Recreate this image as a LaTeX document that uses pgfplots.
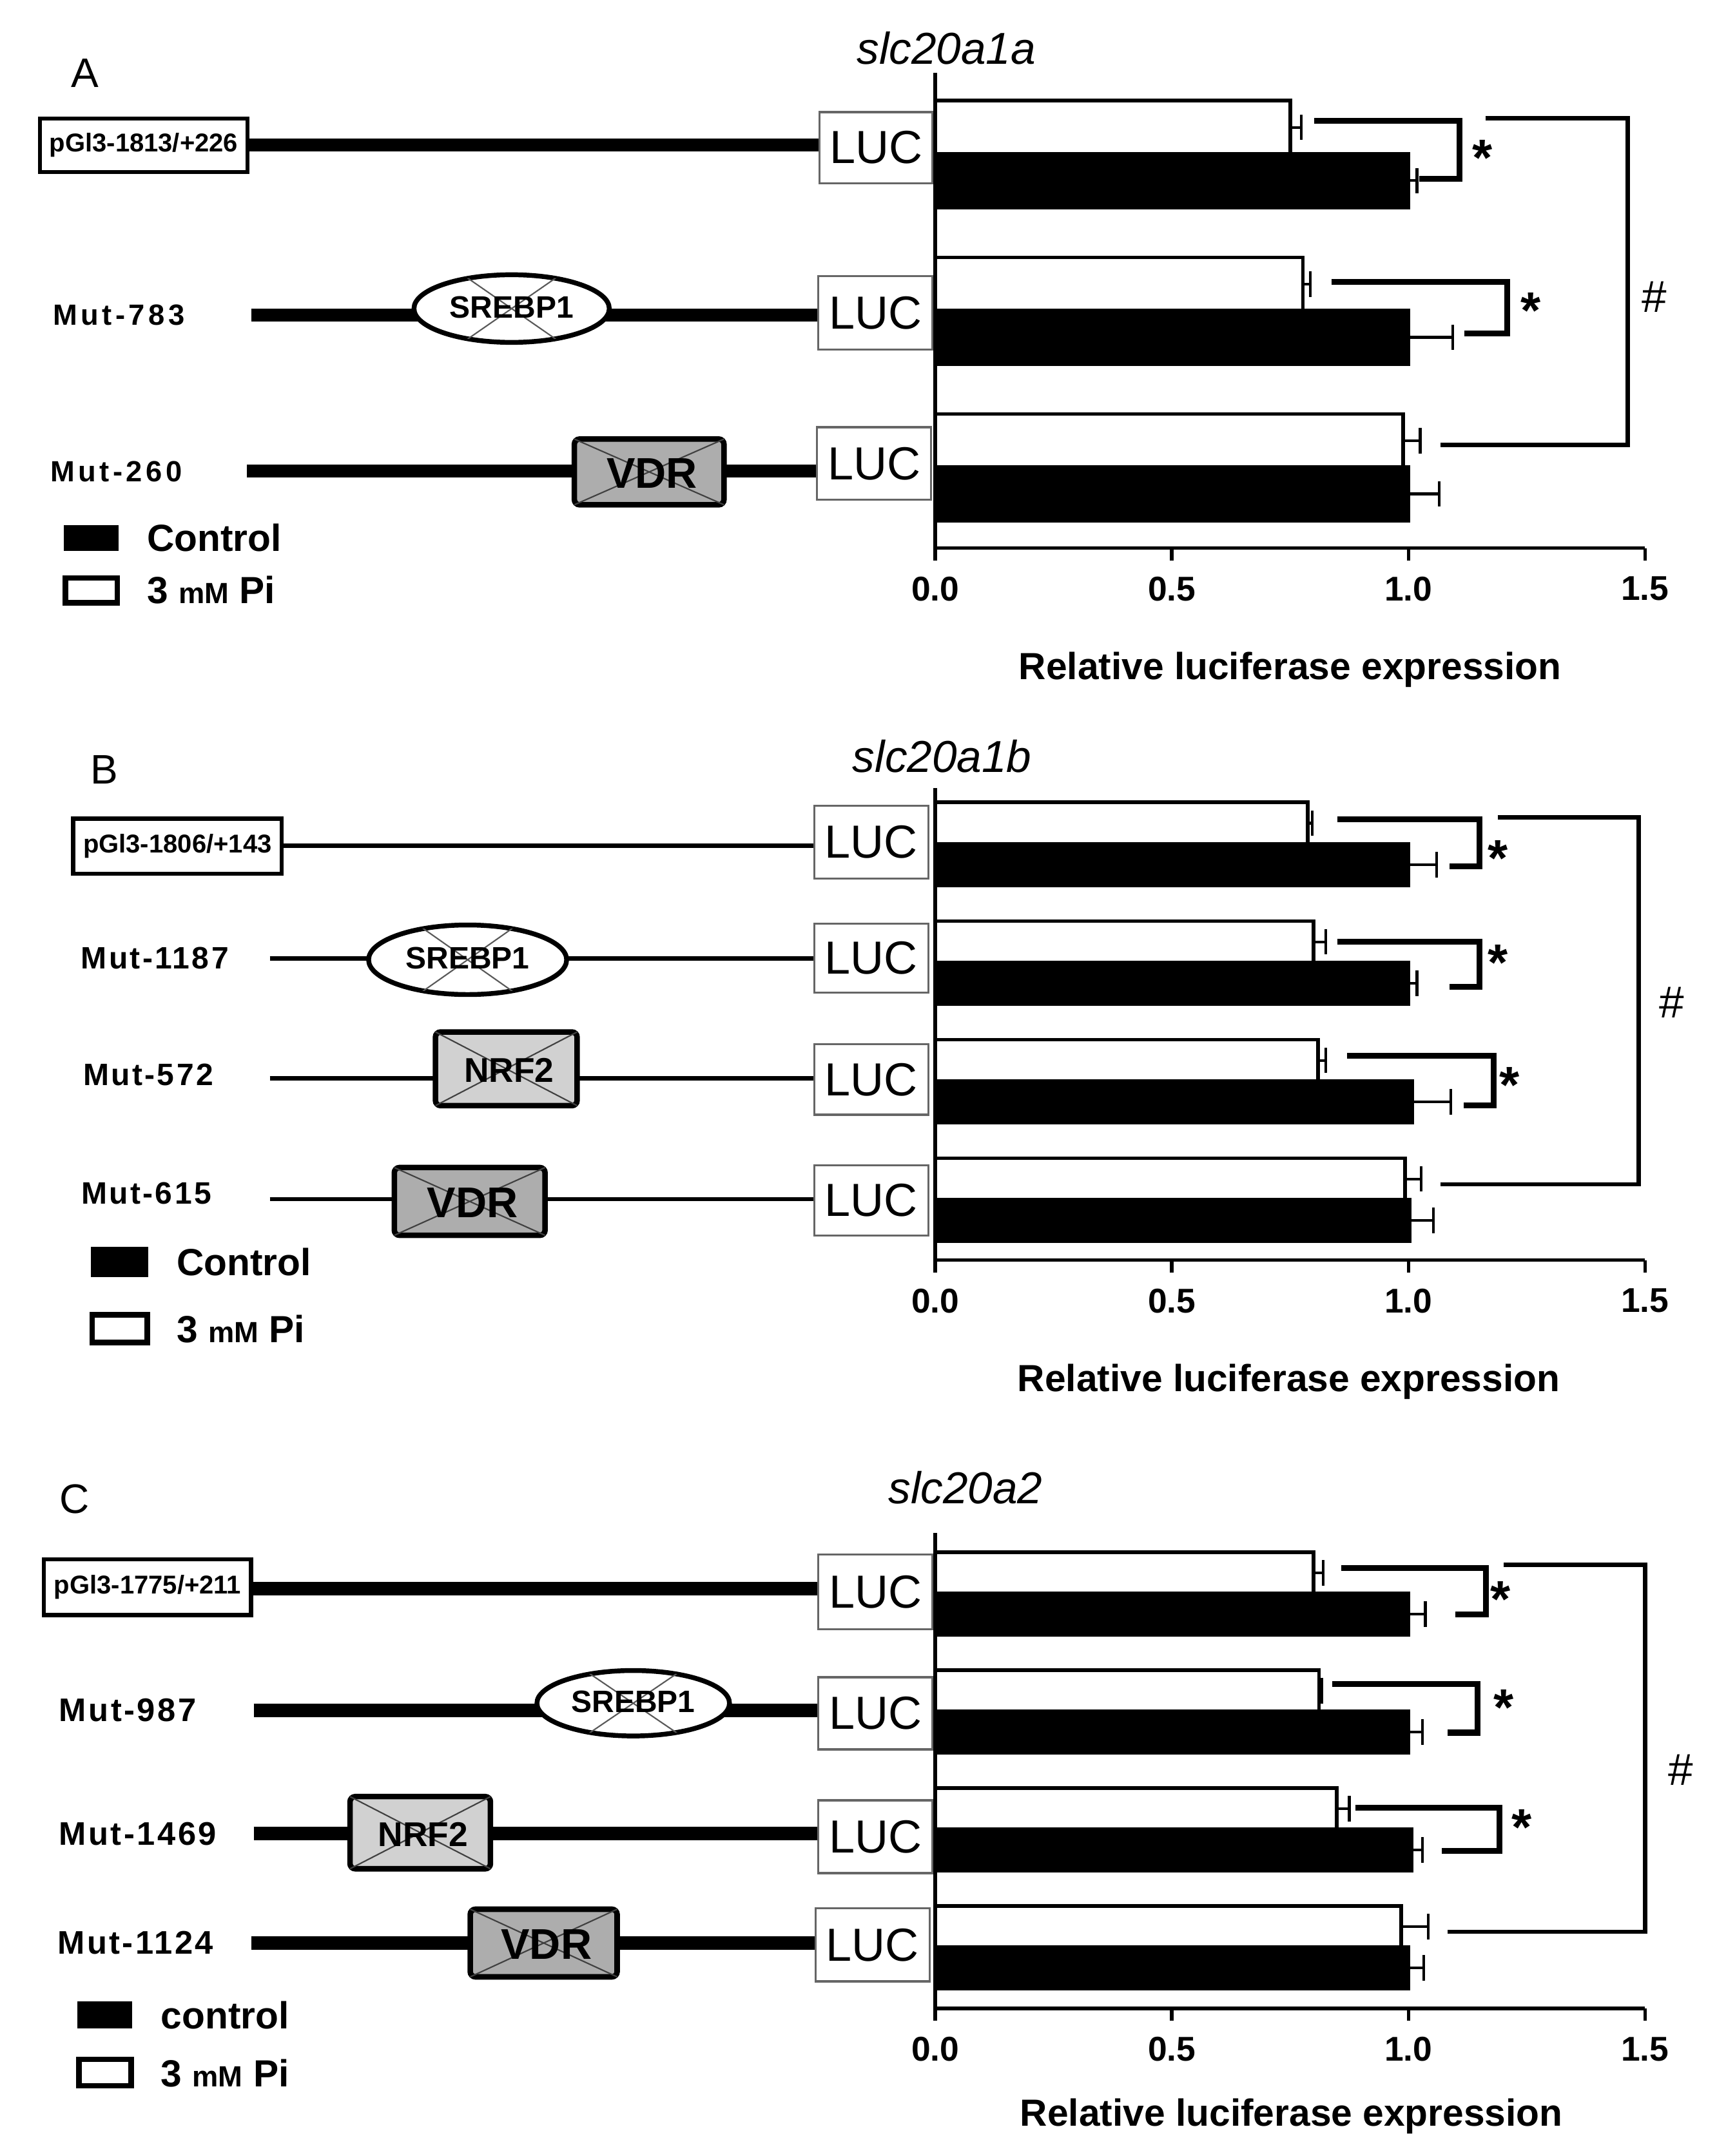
\documentclass[border=0pt]{standalone}
\usepackage{fontspec}
\setmainfont{Liberation Sans}
\usepackage{pgfplots}
\usepackage{pgfplotstable}
\pgfplotsset{compat=1.18}

% panel A: slc20a1a (pos = bar position, group g at y=g)
\pgfplotstableread{
pos   val   err
2.17  0.751 0.023
1.17  0.777 0.016
0.17  0.989 0.036
}\Api
\pgfplotstableread{
pos   val   err
1.83  1.000 0.018
0.83  1.000 0.094
-0.17 1.000 0.065
}\Actl
% panel B: slc20a1b
\pgfplotstableread{
pos    val   err
3.175  0.787 0.010
2.175  0.800 0.025
1.175  0.809 0.016
0.175  0.993 0.034
}\Bpi
\pgfplotstableread{
pos    val   err
2.825  1.000 0.060
1.825  1.000 0.018
0.825  1.008 0.082
-0.175 1.003 0.050
}\Bctl
% panel C: slc20a2
\pgfplotstableread{
pos    val   err
3.175  0.800 0.020
2.175  0.811 0.006
1.175  0.848 0.027
0.175  0.985 0.057
}\Cpi
\pgfplotstableread{
pos    val   err
2.825  1.000 0.036
1.825  1.000 0.030
0.825  1.007 0.023
-0.175 1.000 0.032
}\Cctl

\pgfplotsset{
  lucaxis/.style={
    scale only axis, anchor=south west, width=206.4pt,
    xmin=0, xmax=1.5, xtick={0,0.5,1,1.5}, ytick=\empty,
    axis x line=bottom, axis y line=left,
    axis line style={line width=1pt, -},
    tick align=outside, major tick length=3.6pt,
    every tick/.style={black, line width=1pt},
    /pgf/number format/assume math mode=true,
    xticklabel style={font=\bfseries\fontsize{10}{12}\selectfont, yshift=-1.2pt,
      /pgf/number format/fixed, /pgf/number format/fixed zerofill,
      /pgf/number format/precision=1},
    xbar, bar shift=0pt, clip=false,
    every axis plot/.append style={line width=1.1pt},
    error bars/x dir=plus, error bars/x explicit,
    error bars/error mark=|,
    error bars/error bar style={line width=0.8pt, black},
    error bars/error mark options={line width=0.8pt, mark size=3.7pt, black},
  },
  pi/.style={draw=black, fill=white},
  ctl/.style={draw=black, fill=black},
}

\newcommand{\luc}[4]{%
  \draw[draw=black!60, line width=0.6pt, fill=white] (#1,#2) rectangle (#3,#4);
  \node[font=\fontsize{13.5}{14}\selectfont] at ({(#1+#3)/2},{(#2+#4)/2}) {LUC};}
\newcommand{\motif}[6]{% x1 y1 x2 y2 fill text
  \draw[line width=1.6pt, rounded corners=1.5pt, fill=#5] (#1,#2) rectangle (#3,#4);
  \draw[black!75, line width=0.4pt] (#1,#2) -- (#3,#4) (#1,#4) -- (#3,#2);
  \node[font=\bfseries] at ({(#1+#3)/2+2},{(#2+#4)/2+1}) {#6};}
\newcommand{\srebp}[4]{% cx cy rx ry
  \draw[line width=1.4pt, fill=white] (#1,#2) ellipse [x radius=#3, y radius=#4];
  \begin{scope}
    \clip (#1,#2) ellipse [x radius=#3, y radius=#4];
    \draw[black!65, line width=0.4pt] ({#1-0.5*#3},{#2-#4}) -- ({#1+0.5*#3},{#2+#4})
      ({#1+0.5*#3},{#2-#4}) -- ({#1-0.5*#3},{#2+#4});
  \end{scope}
  \node[font=\bfseries\fontsize{9}{10}\selectfont] at (#1,{#2-1}) {SREBP1};}
\newcommand{\bracket}[5]{% x1 ytop xright ybot x2
  \draw[line width=1.7pt] (#1,#2) -- (#3,#2) -- (#3,#4) -- (#5,#4);}
\newcommand{\hashbracket}[5]{%
  \draw[line width=1.3pt] (#1,#2) -- (#3,#2) -- (#3,#4) -- (#5,#4);}
\newcommand{\sigstar}[2]{\node[font=\bfseries\fontsize{15}{15}\selectfont] at (#1,{#2+4}) {*};}
\newcommand{\hashmark}[2]{\node[font=\fontsize{13}{13}\selectfont] at (#1,#2) {\#};}
\newfontfamily\mutA[LetterSpace=12]{Liberation Sans}
\newfontfamily\mutB[LetterSpace=7]{Liberation Sans}
\tikzset{legtext/.style={anchor=west, inner xsep=0pt, font=\bfseries\fontsize{11}{11}\selectfont}}

\begin{document}
\begin{tikzpicture}
\begin{scope}[x=0.4pt, y=-0.4pt]
\path[use as bounding box] (0,0) rectangle (1248,1568);

% ---------- panel A ----------
\node[font=\fontsize{12}{12}\selectfont] at (62,53) {A};
\node[font=\itshape\fontsize{13}{13}\selectfont] at (688,35) {slc20a1a};
\draw[line width=3.8pt] (180,105.6) -- (596,105.6);
\draw[line width=3.8pt] (182.6,229) -- (596,229);
\draw[line width=3.8pt] (179.5,342.6) -- (596,342.6);
\draw[line width=1.2pt, fill=white] (29.1,86.2) rectangle (179.9,125);
\node[font=\bfseries\fontsize{7.5}{8}\selectfont] at (104.5,105.6) {pGl3-1813/+226};
\node[font=\mutA\bfseries\fontsize{8.5}{9}\selectfont] at (86.5,229) {Mut-783};
\node[font=\mutA\bfseries\fontsize{8.5}{9}\selectfont] at (84.5,343.2) {Mut-260};
\srebp{372}{224.4}{71}{24.6}
\motif{417.6}{319.3}{526.4}{367.1}{black!32}{\fontsize{12.5}{13}\selectfont VDR}
\luc{596}{81.5}{678}{133.3}
\luc{595}{200.8}{678}{254.4}
\luc{594}{310.7}{677}{363.5}
\fill (46.6,382) rectangle (86.2,400.6);
\draw[line width=1.6pt] (47.6,420.4) rectangle (85.2,438.5);
\node[legtext] at (106.5,391) {Control};
\node[legtext] at (106.5,429) {3 {\fontsize{8.5}{9}\selectfont mM} Pi};
\node[font=\bfseries\fontsize{11}{12}\selectfont] at (938,487) {Relative luciferase expression};
\bracket{955.6}{87.8}{1061.3}{130.2}{1032}
\bracket{968}{205}{1096}{242.4}{1064.8}
\sigstar{1078}{111}
\sigstar{1113}{222}
\hashbracket{1080}{86.2}{1183.7}{323.6}{1047.4}
\hashmark{1203}{216}

% ---------- panel B ----------
\node[font=\fontsize{12}{12}\selectfont] at (75.8,559.9) {B};
\node[font=\itshape\fontsize{13}{13}\selectfont] at (685,550) {slc20a1b};
\draw[line width=1.3pt] (204.7,615.1) -- (592,615.1);
\draw[line width=1.3pt] (196.2,697) -- (592,697);
\draw[line width=1.3pt] (196.2,784.4) -- (592,784.4);
\draw[line width=1.3pt] (196.2,872.1) -- (592,872.1);
\draw[line width=1.2pt, fill=white] (53.2,595.4) rectangle (204.7,635.5);
\node[font=\bfseries\fontsize{7.5}{8}\selectfont] at (129,615.5) {pGl3-1806/+143};
\node[font=\mutB\bfseries\fontsize{9}{9}\selectfont] at (112.6,697) {Mut-1187};
\node[font=\mutB\bfseries\fontsize{9}{9}\selectfont] at (107.8,781.7) {Mut-572};
\node[font=\mutB\bfseries\fontsize{9}{9}\selectfont] at (106.4,867.9) {Mut-615};
\srebp{340}{698}{72}{25.3}
\motif{316.6}{750.5}{419.6}{804.1}{black!18}{\fontsize{10}{11}\selectfont NRF2}
\motif{286.7}{849.1}{396.3}{898.4}{black!32}{\fontsize{12.5}{13}\selectfont VDR}
\luc{592}{586}{675}{638.8}
\luc{592}{671.6}{675}{722}
\luc{592}{759.4}{675}{810.7}
\luc{592}{847.5}{675}{898.4}
\fill (66,906.6) rectangle (108,929);
\draw[line width=1.6pt] (67,956.3) rectangle (107,976.3);
\node[legtext] at (128,918) {Control};
\node[legtext] at (128,966.5) {3 {\fontsize{8.5}{9}\selectfont mM} Pi};
\node[font=\bfseries\fontsize{11}{12}\selectfont] at (937,1005) {Relative luciferase expression};
\bracket{972.2}{596}{1075.8}{629.9}{1054}
\bracket{972.2}{684.8}{1075.8}{717.7}{1054}
\bracket{979.6}{767.9}{1085.8}{803.8}{1064}
\sigstar{1089}{620}
\sigstar{1089}{696}
\sigstar{1097.6}{785}
\hashbracket{1089}{594.4}{1191.6}{861.3}{1047.4}
\hashmark{1215.6}{729}

% ---------- panel C ----------
\node[font=\fontsize{12}{12}\selectfont] at (54.4,1090.4) {C};
\node[font=\itshape\fontsize{13}{13}\selectfont] at (702,1082) {slc20a2};
\draw[line width=4pt] (182.6,1155.3) -- (595,1155.3);
\draw[line width=4pt] (184.5,1243.8) -- (595,1243.8);
\draw[line width=4pt] (184.5,1333.5) -- (595,1333.5);
\draw[line width=4pt] (182.6,1413.1) -- (595,1413.1);
\draw[line width=1.2pt, fill=white] (31.9,1134) rectangle (182.6,1174.6);
\node[font=\bfseries\fontsize{7.5}{8}\selectfont] at (107.3,1154.3) {pGl3-1775/+211};
\node[font=\mutB\bfseries\fontsize{9.5}{10}\selectfont] at (92.9,1243.8) {Mut-987};
\node[font=\mutB\bfseries\fontsize{9.5}{10}\selectfont] at (100.2,1333.5) {Mut-1469};
\node[font=\mutB\bfseries\fontsize{9.5}{10}\selectfont] at (98.5,1413.1) {Mut-1124};
\srebp{460.4}{1238.7}{70}{23.8}
\motif{254.5}{1306.6}{356.6}{1359.1}{black!18}{\fontsize{10}{11}\selectfont NRF2}
\motif{341.9}{1388.5}{448.7}{1437.7}{black!32}{\fontsize{12.5}{13}\selectfont VDR}
\luc{595}{1130.4}{678}{1184.8}
\luc{595}{1219.8}{678}{1272.3}
\luc{595}{1309.3}{678}{1362.3}
\luc{593}{1387.9}{676}{1441}
\fill (56.3,1455.7) rectangle (96.3,1475.4);
\draw[line width=1.6pt] (57.3,1497.7) rectangle (95.3,1517);
\node[legtext] at (116.5,1465.5) {control};
\node[legtext] at (116.5,1508) {3 {\fontsize{8.5}{9}\selectfont mM} Pi};
\node[font=\bfseries\fontsize{11}{12}\selectfont] at (939,1539) {Relative luciferase expression};
\bracket{975.3}{1140.2}{1080.2}{1174}{1058.3}
\bracket{968.7}{1224.8}{1074.5}{1260.1}{1052.6}
\bracket{985.3}{1314.8}{1090.2}{1346}{1048.2}
\sigstar{1091}{1159}
\sigstar{1093.3}{1238}
\sigstar{1106.4}{1325}
\hashbracket{1093.3}{1138}{1196}{1404.9}{1052.6}
\hashmark{1222.2}{1287}
\end{scope}

\begin{axis}[lucaxis, at={(272pt,-159.48pt)}, height=138.28pt,
  ymin=-0.517, ymax=2.518, bar width=0.34]
\addplot[pi] table[x=val, y=pos, x error=err] {\Api};
\addplot[ctl] table[x=val, y=pos, x error=err] {\Actl};
\end{axis}

\begin{axis}[lucaxis, at={(272pt,-366.6pt)}, height=137.4pt,
  ymin=-0.510, ymax=3.473, bar width=0.35]
\addplot[pi] table[x=val, y=pos, x error=err] {\Bpi};
\addplot[ctl] table[x=val, y=pos, x error=err] {\Bctl};
\end{axis}

\begin{axis}[lucaxis, at={(272pt,-584.24pt)}, height=138.24pt,
  ymin=-0.520, ymax=3.512, bar width=0.35]
\addplot[pi] table[x=val, y=pos, x error=err] {\Cpi};
\addplot[ctl] table[x=val, y=pos, x error=err] {\Cctl};
\end{axis}
\end{tikzpicture}
\end{document}
